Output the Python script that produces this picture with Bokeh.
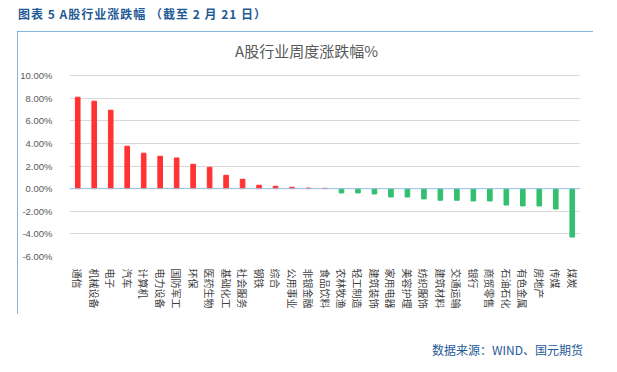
import math
from bokeh.plotting import figure
from bokeh.layouts import column
from bokeh.models import (FactorRange, Range1d, FixedTicker, PrintfTickFormatter,
                          Span, ColumnDataSource, Div, Label)
from bokeh.embed import file_html
from bokeh.resources import INLINE

categories = ["通信", "机械设备", "电子", "汽车", "计算机", "电力设备", "国防军工", "环保",
              "医药生物", "基础化工", "社会服务", "钢铁", "综合", "公用事业", "非银金融",
              "食品饮料", "农林牧渔", "轻工制造", "建筑装饰", "家用电器", "美容护理",
              "纺织服饰", "建筑材料", "交通运输", "银行", "商贸零售", "石油石化",
              "有色金属", "房地产", "传媒", "煤炭"]
changes = [8.08, 7.73, 6.93, 3.75, 3.13, 2.86, 2.71, 2.15, 1.89, 1.18, 0.83, 0.30,
           0.21, 0.12, 0.05, 0.03, -0.38, -0.38, -0.47, -0.74, -0.74, -0.91, -1.03,
           -1.03, -1.09, -1.09, -1.45, -1.53, -1.53, -1.80, -4.28]
y_ticks = [-6, -4, -2, 0, 2, 4, 6, 8, 10]

chart_title = "A股行业周度涨跌幅%"
header_text = "图表 5 A股行业涨跌幅 （截至 2 月 21 日）"
source_text = "数据来源：WIND、国元期货"

UP = "#ff3333"
DOWN = "#33bf6f"
BLUE_TXT = "#1f5a96"
colors = [UP if v >= 0 else DOWN for v in changes]
src = ColumnDataSource(dict(cat=categories, val=changes, color=colors))

# layout (px): plot area 513 x 181 for the tick span, plus 35 px of headroom for the title
AREA_W, AREA_H, HEAD = 513, 181, 35
YU = AREA_H / (y_ticks[-1] - y_ticks[0])     # px per percentage point
XU = AREA_W / len(categories)                 # px per category
y_top = y_ticks[-1] + HEAD / YU

p = figure(width=576, height=283,
           x_range=FactorRange(*categories),
           y_range=Range1d(y_ticks[0], y_top),
           output_backend="svg", toolbar_location=None,
           min_border_left=50, min_border_right=13,
           min_border_top=9, min_border_bottom=58,
           margin=(0, 0, 0, 17),
           styles={"outline": "1px solid #5b9bd5", "outline-offset": "-1px"})
p.outline_line_color = None
p.background_fill_color = "white"
p.border_fill_color = "white"

p.vbar(x="cat", top="val", width=0.28, color="color", source=src)

p.add_layout(Span(location=0, dimension="width", line_color="#9dc3e6", line_width=1))

p.add_layout(Label(x=238 / XU, y=y_ticks[-1] + 25.5 / YU, text=chart_title,
                   text_align="center", text_baseline="middle",
                   text_font="Noto Sans CJK SC", text_font_size="15px",
                   text_color="#595959"))

p.xgrid.grid_line_color = None
p.ygrid.ticker = FixedTicker(ticks=y_ticks)
p.ygrid.grid_line_color = "#d9d9d9"

xa = p.xaxis[0]
xa.axis_line_color = None
xa.major_tick_line_color = None
xa.minor_tick_line_color = None
xa.major_label_orientation = -math.pi / 2
xa.major_label_text_font = "Noto Sans CJK SC"
xa.major_label_text_font_size = "10px"
xa.major_label_text_color = "#404040"
xa.major_label_standoff = 6

ya = p.yaxis[0]
ya.ticker = FixedTicker(ticks=y_ticks)
ya.formatter = PrintfTickFormatter(format="%.2f%%")
ya.axis_line_color = None
ya.major_tick_line_color = None
ya.minor_tick_line_color = None
ya.major_label_text_font = "Liberation Sans"
ya.major_label_text_font_size = "9.5px"
ya.major_label_text_color = "#595959"
ya.major_label_standoff = 11

header = Div(text=header_text, width=590, height=23, margin=(8, 0, 0, 18),
             styles={"font-family": "Noto Sans CJK SC", "font-size": "12px",
                     "font-weight": "bold", "color": BLUE_TXT, "line-height": "12px",
                     "letter-spacing": "1px", "white-space": "nowrap"})
source = Div(text=source_text, width=176, height=12, margin=(30, 0, 0, 432),
             styles={"font-family": "Noto Sans CJK SC", "font-size": "12px",
                     "color": BLUE_TXT, "line-height": "12px", "white-space": "nowrap"})

layout = column(header, p, source, spacing=0)

open("out.html", "w").write(file_html(layout, INLINE))
